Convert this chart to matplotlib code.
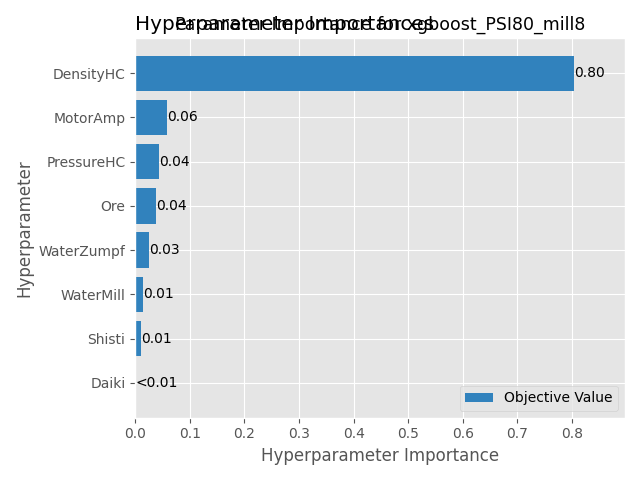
import matplotlib
matplotlib.use("Agg")
import matplotlib.pyplot as plt

params = ["Daiki", "Shisti", "WaterMill", "WaterZumpf", "Ore", "PressureHC", "MotorAmp", "DensityHC"]
importances = [0.001, 0.011, 0.014, 0.025, 0.039, 0.043, 0.059, 0.803]
labels = ["<0.01", "0.01", "0.01", "0.03", "0.04", "0.04", "0.06", "0.80"]

plt.style.use("ggplot")
fig, ax = plt.subplots(figsize=(6.4, 4.8), dpi=100)
bars = ax.barh(params, importances, color=plt.get_cmap("tab20c")(0),
               align="center", label="Objective Value")
for b, txt in zip(bars, labels):
    ax.text(b.get_width(), b.get_y() + b.get_height() / 2, txt,
            ha="left", va="center", fontsize=10, color="black")
ax.set_title("Hyperparameter Importances", loc="left")
ax.set_title("Parameter Importance for xgboost_PSI80_mill8", fontsize=12.5)
ax.set_xlabel("Hyperparameter Importance")
ax.set_ylabel("Hyperparameter")
ax.set_xlim(0, 0.897)
ax.legend(loc="lower right")
fig.tight_layout()
fig.savefig("out.png", dpi=100)
